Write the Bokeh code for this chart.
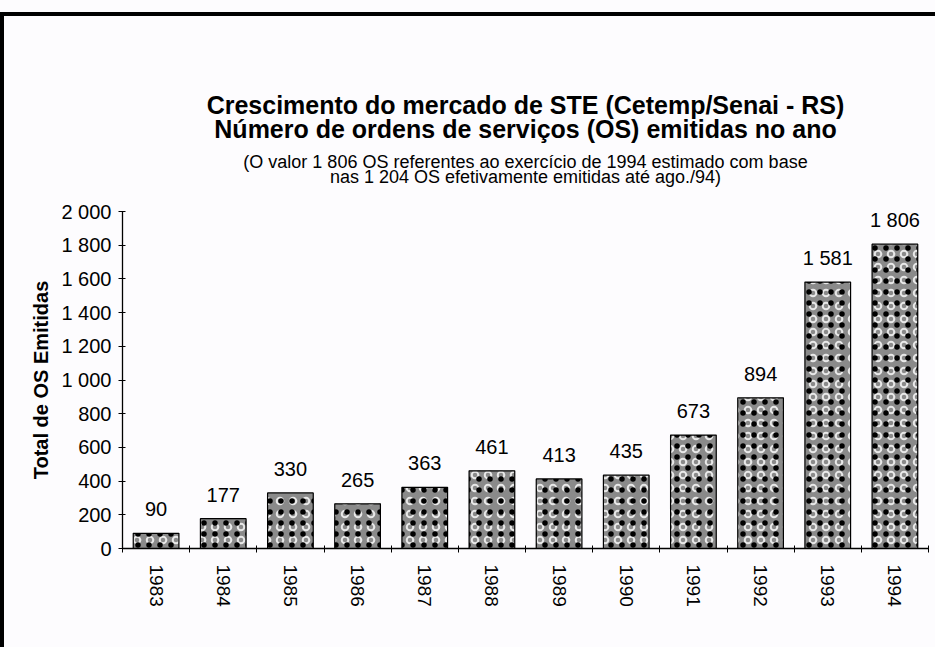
from bokeh.plotting import figure
from bokeh.models import Range1d, FixedTicker, LabelSet, ColumnDataSource, Title
from bokeh.core.properties import value
from bokeh.embed import file_html
from bokeh.resources import INLINE

# ---- data ----
years = [1983, 1984, 1985, 1986, 1987, 1988, 1989, 1990, 1991, 1992, 1993, 1994]
values = [90, 177, 330, 265, 363, 461, 413, 435, 673, 894, 1581, 1806]
y_ticks = [0, 200, 400, 600, 800, 1000, 1200, 1400, 1600, 1800, 2000]
y_tick_labels = ["0", "200", "400", "600", "800", "1 000", "1 200", "1 400", "1 600", "1 800", "2 000"]
title_lines = ["Crescimento do mercado de STE (Cetemp/Senai - RS)",
               "Número de ordens de serviços (OS) emitidas no ano"]
note_lines = ["(O valor 1 806 OS referentes ao exercício de 1994 estimado com base",
              "nas 1 204 OS efetivamente emitidas até ago./94)"]
y_label = "Total de OS Emitidas"

FONT = "Liberation Sans"
BG = "#fdfcfe"

def fmt(v):
    return f"{v:,}".replace(",", " ")

src = ColumnDataSource(dict(year=years, value=values, label=[fmt(v) for v in values]))

p = figure(width=935, height=647, output_backend="svg", toolbar_location=None,
           x_range=Range1d(years[0] - 0.5, years[-1] + 0.5), y_range=Range1d(0, 2000),
           min_border_left=122, min_border_right=7, min_border_top=211, min_border_bottom=99)
p.background_fill_color = BG
p.border_fill_alpha = 0
p.outline_line_color = None
p.grid.visible = False

# bars: gray halftone with white rings and black dots
p.vbar(x="year", top="value", width=0.68, source=src, fill_color="#8a8a8a",
       line_color="black", line_width=1.2,
       hatch_pattern="ring", hatch_color="white", hatch_scale=13, hatch_weight=2, hatch_alpha=0.8)
p.vbar(x="year", top="value", width=0.68, source=src, fill_alpha=0, line_alpha=0,
       hatch_pattern="dot", hatch_color="black", hatch_scale=11, hatch_weight=3)

# value labels
p.add_layout(LabelSet(x="year", y="value", text="label", source=src, y_offset=17,
                      text_align="center", text_baseline="alphabetic",
                      text_font=value(FONT), text_font_size="20px", text_color="black"))

# x axis: labels at year centres, ticks at category boundaries
xa = p.xaxis[0]
xa.ticker = FixedTicker(ticks=years, minor_ticks=[y - 0.5 for y in years] + [years[-1] + 0.5])
xa.major_tick_in = 0
xa.major_tick_out = 0
xa.minor_tick_in = 3
xa.minor_tick_out = 4
xa.minor_tick_line_color = "black"
xa.major_label_orientation = "vertical"
xa.major_label_standoff = 12
xa.major_label_text_font = FONT
xa.major_label_text_font_size = "19px"
xa.major_label_text_color = "black"
xa.axis_line_color = "black"
xa.axis_line_width = 1.3

ya = p.yaxis[0]
ya.ticker = FixedTicker(ticks=y_ticks, minor_ticks=[])
ya.major_label_overrides = {t: l for t, l in zip(y_ticks, y_tick_labels)}
ya.major_tick_in = 3
ya.major_tick_out = 4
ya.major_tick_line_color = "black"
ya.major_label_standoff = 7
ya.major_label_text_font = FONT
ya.major_label_text_font_size = "20px"
ya.major_label_text_color = "black"
ya.axis_line_color = "black"
ya.axis_line_width = 1.3
ya.axis_label = y_label
ya.axis_label_text_font = FONT
ya.axis_label_text_font_style = "bold"
ya.axis_label_text_font_size = "20px"
ya.axis_label_text_color = "black"
ya.axis_label_standoff = 6

# title lines stacked above the frame (first added is closest to the frame)
p.add_layout(Title(text=" ", text_font_size="1px", standoff=30.8), "above")  # spacer
for text, size, style, standoff in [(note_lines[1], "18px", "normal", -19.6),
                                    (note_lines[0], "18px", "normal", 8),
                                    (title_lines[1], "25px", "bold", 5.2),
                                    (title_lines[0], "25px", "bold", -17.2)]:
    p.add_layout(Title(text=text, align="center", standoff=standoff,
                       text_font=FONT, text_font_size=size, text_font_style=style,
                       text_color="black"), "above")

# scanned page frame (top and left edges), drawn behind the transparent canvas border
p.styles = {"background": "linear-gradient(#000, #000) 0px 12px / 100% 4px no-repeat, "
                          "linear-gradient(#000, #000) 0px 12px / 4px 100% no-repeat, " + BG}

open("out.html", "w").write(file_html(p, INLINE))
